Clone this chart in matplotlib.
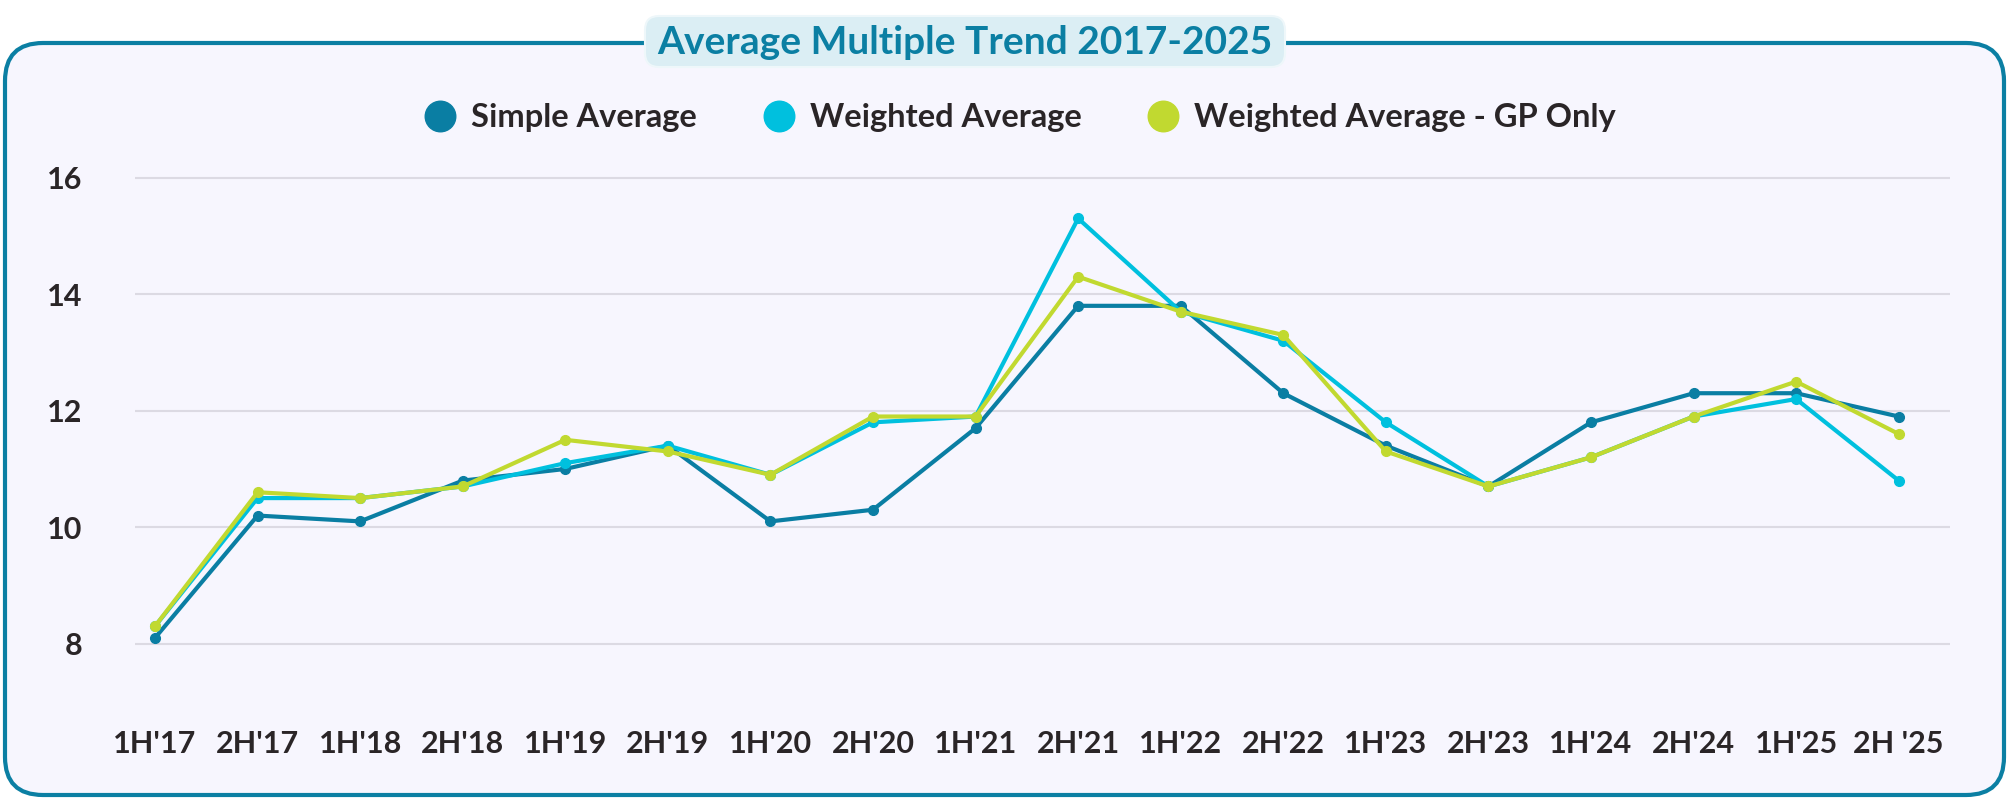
import numpy as np
import matplotlib
matplotlib.use("Agg")
from matplotlib import pyplot as plt
from matplotlib.lines import Line2D
from matplotlib.patches import FancyBboxPatch

# data
periods = ["1H'17", "2H'17", "1H'18", "2H'18", "1H'19", "2H'19", "1H'20", "2H'20", "1H'21",
           "2H'21", "1H'22", "2H'22", "1H'23", "2H'23", "1H'24", "2H'24", "1H'25", "2H '25"]
simple_avg = [8.1, 10.2, 10.1, 10.8, 11.0, 11.4, 10.1, 10.3, 11.7,
              13.8, 13.8, 12.3, 11.4, 10.7, 11.8, 12.3, 12.3, 11.9]
weighted_avg = [8.3, 10.5, 10.5, 10.7, 11.1, 11.4, 10.9, 11.8, 11.9,
                15.3, 13.7, 13.2, 11.8, 10.7, 11.2, 11.9, 12.2, 10.8]
weighted_gp = [8.3, 10.6, 10.5, 10.7, 11.5, 11.3, 10.9, 11.9, 11.9,
               14.3, 13.7, 13.3, 11.3, 10.7, 11.2, 11.9, 12.5, 11.6]
series_names = ["Simple Average", "Weighted Average", "Weighted Average - GP Only"]
y_ticks = [8, 10, 12, 14, 16]

COLORS = ["#0a7ea3", "#00c0de", "#c1d930"]
BORDER = "#0b7fa3"
PANEL = "#f7f6fe"
TEXT = "#2a2527"
GRID = "#dcdae3"
FONT = ["Lato", "DejaVu Sans"]

W, H = 2009, 799
fig = plt.figure(figsize=(W / 100, H / 100), dpi=100)
fig.patch.set_facecolor("white")

# background layer in pixel coordinates for the frame and title box
bg = fig.add_axes([0, 0, 1, 1])
bg.set_xlim(0, W)
bg.set_ylim(H, 0)
bg.axis("off")
frame = FancyBboxPatch((5, 43), W - 10, H - 47, boxstyle="round,pad=0,rounding_size=38",
                       facecolor=PANEL, edgecolor=BORDER, linewidth=3)
bg.add_patch(frame)
title_box = FancyBboxPatch((645, 16), 640, 51, boxstyle="round,pad=0,rounding_size=14",
                           facecolor="#dbeef4", edgecolor="#eef7fa", linewidth=1.5)
bg.add_patch(title_box)
bg.text(965, 42, "Average Multiple Trend 2017-2025", ha="center", va="center",
        fontsize=28, fontweight="bold", color=BORDER, family=FONT)

# main chart
ax = fig.add_axes([135 / W, 1 - 702 / H, (1950 - 135) / W, (702 - 166) / H])
ax.set_facecolor("none")
x = np.arange(len(periods))
for i, (vals, name) in enumerate(zip([simple_avg, weighted_avg, weighted_gp], series_names)):
    ax.plot(x, vals, color=COLORS[i], linewidth=3, marker="o", markersize=7,
            label=name, zorder=3 + i, solid_joinstyle="round")

ax.set_xlim(-0.195, 17.5)
ax.set_ylim(7, 16.2)
ax.set_yticks(y_ticks)
ax.set_yticklabels([str(t) for t in y_ticks])
ax.set_xticks(x)
ax.set_xticklabels(periods)
ax.grid(axis="y", color=GRID, linewidth=1.5)
ax.set_axisbelow(True)
for sp in ax.spines.values():
    sp.set_visible(False)
ax.tick_params(axis="both", length=0, colors=TEXT, labelsize=22)
ax.tick_params(axis="y", pad=38)
ax.tick_params(axis="x", pad=20)
for lab in ax.get_xticklabels() + ax.get_yticklabels():
    lab.set_fontweight("bold")
    lab.set_family(FONT)

# legend with big round dots
handles = [Line2D([0], [0], marker="o", color="none", markerfacecolor=c, markeredgecolor=c,
                  markersize=22, label=n) for c, n in zip(COLORS, series_names)]
leg = fig.legend(handles=handles, loc="center", bbox_to_anchor=(1020 / W, 1 - 118 / H),
                 ncol=3, frameon=False, handlelength=1.0, handletextpad=0.45, columnspacing=2.0,
                 prop={"family": FONT, "weight": "bold", "size": 23.5})
for t in leg.get_texts():
    t.set_color(TEXT)

fig.savefig("out.png", dpi=100, facecolor=fig.get_facecolor())
